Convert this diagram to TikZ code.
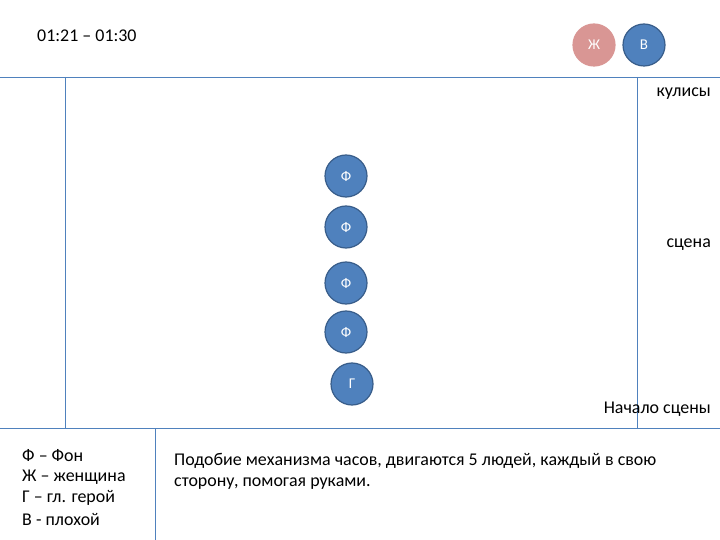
\documentclass[tikz,border=0pt]{standalone}
\usepackage{fontspec}
\setmainfont{Carlito}
\definecolor{lineblue}{HTML}{4F81BD}
\definecolor{fillblue}{HTML}{4F81BD}
\definecolor{edgeblue}{HTML}{385D8A}
\definecolor{pinkfill}{HTML}{D99694}
\begin{document}
\begin{tikzpicture}[x=1bp,y=-1bp,
  stageline/.style={draw=lineblue,line width=0.8bp},
  actor/.style={circle,minimum size=42bp,inner sep=0pt,fill=fillblue,draw=edgeblue,line width=1.2bp,text=white,font=\fontsize{15}{17}\selectfont},
  actorw/.style={actor,fill=pinkfill,draw=pinkfill},
  lbl/.style={anchor=east,inner sep=0pt,font=\fontsize{18}{20}\selectfont},
  txt/.style={anchor=west,inner sep=0pt,font=\fontsize{18}{20}\selectfont}]
\useasboundingbox (0,0) rectangle (720,540);
\coordinate (tl) at (0,77); \coordinate (tr) at (720,77);
\coordinate (bl) at (0,428); \coordinate (br) at (720,428);
\coordinate (v1t) at (65,77); \coordinate (v1b) at (65,428);
\coordinate (v2t) at (637,77); \coordinate (v2b) at (637,428);
\coordinate (v3t) at (155,428); \coordinate (v3b) at (155,540);
\draw[stageline] (tl) -- (tr);
\draw[stageline] (bl) -- (br);
\draw[stageline] (v1t) -- (v1b);
\draw[stageline] (v2t) -- (v2b);
\draw[stageline] (v3t) -- (v3b);
\node[txt] (time) at (37,36) {01:21 – 01:30};
\node[actorw] (zh) at (594,45) {Ж};
\node[actor] (v) at (644,45) {В};
\node[actor] (f1) at (346,176) {Ф};
\node[actor] (f2) at (346,227) {Ф};
\node[actor] (f3) at (346,283) {Ф};
\node[actor] (f4) at (346,332) {Ф};
\node[actor] (g) at (352,384) {Г};
\node[lbl] (kul) at (711,94) {кулисы};
\node[lbl] (sc) at (711,245) {сцена};
\node[lbl] (nach) at (711,409) {Начало сцены};
\node[txt] (l1) at (22,456) {Ф – Фон};
\node[txt] (l2) at (22,477) {Ж – женщина};
\node[txt] (l3) at (22,498) {Г – гл. герой};
\node[txt] (l4) at (22,520) {В - плохой};
\node[txt] (d1) at (174,461) {Подобие механизма часов, двигаются 5 людей, каждый в свою};
\node[txt] (d2) at (174,484) {сторону, помогая руками.};
\end{tikzpicture}
\end{document}
